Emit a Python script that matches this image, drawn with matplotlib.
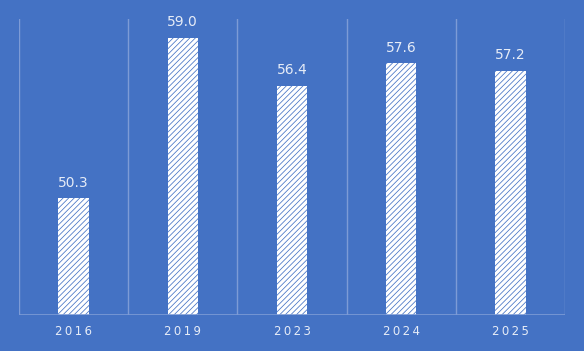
import numpy as np
import matplotlib.pyplot as plt

# dados
anos = ['2016', '2019', '2023', '2024', '2025']
valores = [50.3, 59.0, 56.4, 57.6, 57.2]

azul = '#4472C4'
grade = '#7d9bd6'
texto = '#e6ecf7'

plt.rcParams['hatch.linewidth'] = 0.55
plt.rcParams['hatch.color'] = azul

fig = plt.figure(figsize=(5.84, 3.51), dpi=100, facecolor=azul)
ax = fig.add_axes([19 / 584, 36 / 351, 546 / 584, 296 / 351])
ax.set_facecolor(azul)

x = np.arange(len(anos))
barras = ax.bar(x, valores, width=0.28, bottom=0, color='white',
                edgecolor=azul, hatch='//////', linewidth=0)

ax.set_xlim(-0.5, len(anos) - 0.5)
ax.set_ylim(44, 60)

# linhas de grade verticais entre categorias
for pos in np.arange(-0.5, len(anos), 1.0):
    ax.axvline(pos, color=grade, linewidth=1, zorder=0)

for s in ax.spines.values():
    s.set_visible(False)
ax.axhline(44, color=grade, linewidth=1.2, zorder=3)

for xi, v in zip(x, valores):
    ax.text(xi, v + 0.45, f'{v:.1f}', ha='center', va='bottom',
            fontsize=10, color=texto)

ax.set_xticks(x)
ax.set_xticklabels(['\u2009'.join(a) for a in anos], fontsize=8.5, color=texto)
ax.tick_params(axis='x', length=0, pad=7)
ax.set_yticks([])

fig.savefig('out.png', dpi=100, facecolor=azul)
